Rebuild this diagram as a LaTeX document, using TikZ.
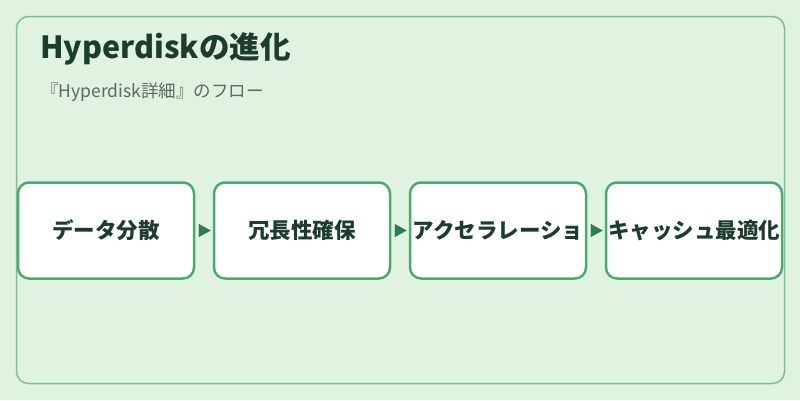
\documentclass[tikz,border=0pt]{standalone}
\usepackage{fontspec}
\setmainfont{Noto Sans CJK JP}
\usepackage{tikz}
\usetikzlibrary{arrows.meta, positioning}

\definecolor{bgmint}{HTML}{E0F2E0}
\definecolor{framegreen}{HTML}{7CBF92}
\definecolor{boxgreen}{HTML}{4DAA6F}
\definecolor{tipgreen}{HTML}{2E7D4F}
\definecolor{titlegreen}{HTML}{1C3D2D}
\definecolor{subgray}{HTML}{5B6B5F}

\begin{document}
\begin{tikzpicture}[
        x=1pt, y=-1pt,
        box/.style={rectangle, draw=boxgreen, line width=2.5pt, fill=white, rounded corners=11pt, minimum height=96pt, minimum width=176pt, inner xsep=0pt, align=center, text=titlegreen, font=\fontsize{21.5pt}{26pt}\selectfont\bfseries},
        arrow/.style={-{Triangle[length=12pt, width=13pt]}, draw=tipgreen, fill=tipgreen, line width=0.4pt, shorten <=4pt, shorten >=2pt},
        node distance=17.5pt
    ]
        % Background
        \fill[bgmint] (0,0) rectangle (800,400);
        \useasboundingbox (0,0) rectangle (800,400);
        \draw[framegreen, line width=1.5pt, rounded corners=12pt] (16.5,16.5) rectangle (784.5,383.5);

        % Title
        \node[anchor=base west, inner sep=0pt, text=titlegreen, font=\fontsize{30.5pt}{36pt}\selectfont\bfseries] (title) at (40,58) {Hyperdiskの進化};
        \node[anchor=base west, inner sep=0pt, text=subgray, font=\fontsize{17.5pt}{21pt}\selectfont] (subtitle) at (41,97) {『Hyperdisk詳細』のフロー};

        % Steps
        \node[box] (dist) at (106,230.5) {データ分散};
        \node[box, right=of dist] (redund) {冗長性確保};
        \node[box, right=of redund] (accel) {アクセラレーショ};
        \node[box, right=of accel] (cache) {キャッシュ最適化};

        % Arrows
        \draw[arrow] (dist) -- (redund);
        \draw[arrow] (redund) -- (accel);
        \draw[arrow] (accel) -- (cache);
    \end{tikzpicture}
\end{document}
